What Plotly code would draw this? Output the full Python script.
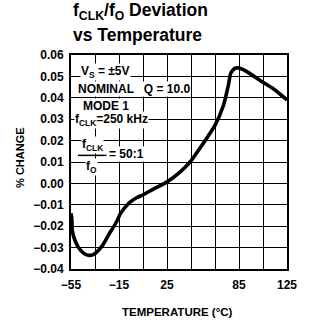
import plotly.graph_objects as go

# Data
temp_c = [-55, -54.4, -53.9, -52, -48.9, -44.5, -40.6, -36.5, -33.6, -28.5, -23.9,
          -16.9, -14.2, -10.5, -5.8, 0, 5.3, 13.6, 24.7, 35.8, 44.2, 51.1, 58, 65, 72,
          76.1, 78, 80, 81.7, 84.4, 89, 94.2, 102.5, 113.6, 125]
pct_change = [-0.0140, -0.0160, -0.0220, -0.0262, -0.0298, -0.0326, -0.0336, -0.0333,
              -0.0321, -0.0288, -0.0243, -0.0178, -0.0145, -0.0116, -0.0088, -0.0066,
              -0.0053, -0.0027, 0.0006, 0.0053, 0.0100, 0.0154, 0.0210, 0.0271, 0.0364,
              0.0458, 0.0513, 0.0530, 0.0538, 0.0540, 0.0530, 0.0513, 0.0481, 0.0442,
              0.0390]

x_grid_vals = [-55, -35, -15, 5, 25, 45, 65, 85, 105, 125]
x_tick_vals = [-55, -15, 25, 85, 125]
x_tick_text = ["−55", "−15", "25", "85", "125"]
y_tick_vals = [-0.04, -0.03, -0.02, -0.01, 0.00, 0.01, 0.02, 0.03, 0.04, 0.05, 0.06]
y_tick_text = ["−0.04", "−0.03", "−0.02", "−0.01", "0.00", "0.01", "0.02", "0.03",
               "0.04", "0.05", "0.06"]
title_lines = ["f<sub>CLK</sub>/f<sub>O</sub> Deviation", "vs Temperature"]

NARROW = "Liberation Sans Narrow, Arial Narrow, Liberation Sans, sans-serif"
tick_font = dict(family=NARROW, size=12, color="black", weight="bold")

fig = go.Figure()
fig.add_trace(go.Scatter(x=temp_c, y=pct_change, mode="lines",
                         line=dict(color="black", width=3.6, shape="spline", smoothing=0.5),
                         hoverinfo="skip", showlegend=False))

fig.update_xaxes(range=[-55, 125], showgrid=False,
                 showline=True, linecolor="black", linewidth=2, mirror=True,
                 zeroline=False, ticks="", tickmode="array", tickvals=x_tick_vals,
                 ticktext=x_tick_text, tickfont=tick_font, ticklabelstandoff=4,
                 minor=dict(tickmode="array", tickvals=x_grid_vals, showgrid=True,
                            gridcolor="black", gridwidth=1.2, ticks=""))
fig.update_yaxes(range=[-0.04, 0.06], showgrid=True, gridcolor="black", gridwidth=1.2,
                 showline=True, linecolor="black", linewidth=2, mirror=True, zeroline=False,
                 ticks="", tickmode="array", tickvals=y_tick_vals, ticktext=y_tick_text,
                 tickfont=tick_font, ticklabelstandoff=3)

note_font = dict(family=NARROW, size=12, color="black", weight="bold")
notes = [
    ("V<sub>S</sub> = ±5V", -47.5, 0.0519),
    ("NOMINAL   Q = 10.0", -50.0, 0.0441),
    ("MODE 1", -45.8, 0.0364),
    ("f<sub>CLK</sub>=250 kHz", -52.5, 0.0294),
    ("f<sub>CLK</sub>", -46.7, 0.0180),
    ("f<sub>O</sub>", -43.3, 0.0077),
    ("= 50:1", -24.2, 0.0136),
]
for txt, xv, yv in notes:
    fig.add_annotation(x=xv, y=yv, xref="x", yref="y", text=txt, showarrow=False,
                       xanchor="left", yanchor="middle", font=note_font,
                       bgcolor="white", borderpad=0)
fig.add_shape(type="line", x0=-49.2, x1=-25.5, y0=0.0131, y1=0.0131, xref="x", yref="y",
              line=dict(color="black", width=1.5))

fig.add_annotation(x=-0.236, y=0.519, xref="paper", yref="paper", text="% CHANGE",
                   textangle=-90, showarrow=False, xanchor="center",
                   font=dict(family=NARROW, size=11, color="black", weight="bold"))
fig.add_annotation(x=0.495, y=-0.201, xref="paper", yref="paper", text="TEMPERATURE (°C)",
                   showarrow=False, yanchor="middle",
                   font=dict(family=NARROW, size=11.5, color="black", weight="bold"))
for txt, yv in zip(title_lines, [1.201, 1.093]):
    fig.add_annotation(x=0.0, y=yv, xref="paper", yref="paper", text=txt,
                       showarrow=False, xanchor="left", yanchor="middle", align="left",
                       font=dict(family="Liberation Sans, Arial, sans-serif", size=17.5,
                                 color="black", weight="bold"))

fig.update_layout(
    width=312, height=320,
    margin=dict(l=71, r=25, t=55, b=51),
    paper_bgcolor="white", plot_bgcolor="white",
)

fig.write_html("out.html", config={"displayModeBar": False},
               post_script="document.body.style.margin='0px';")
